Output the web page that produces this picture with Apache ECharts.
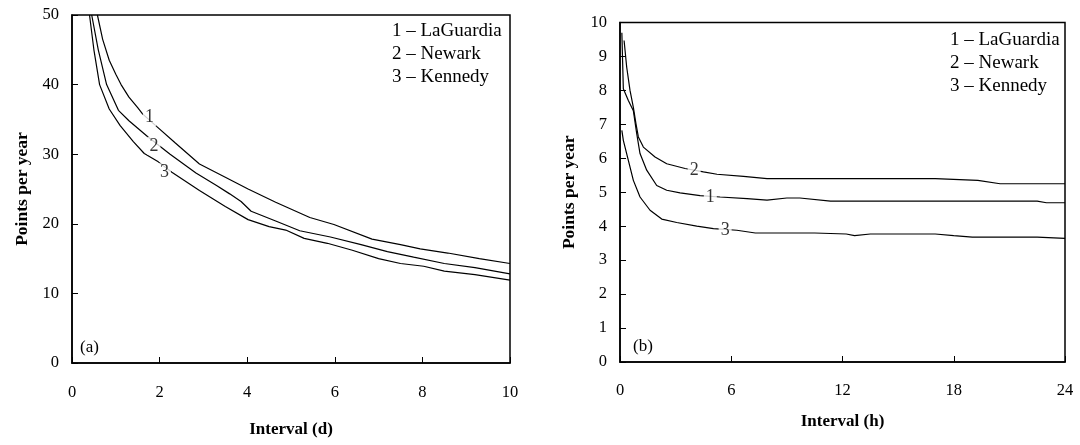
<!DOCTYPE html>
<html>
<head>
<meta charset="utf-8">
<script src="https://cdn.jsdelivr.net/npm/echarts@6/dist/echarts.min.js"></script>
<style>
    html, body { margin: 0; padding: 0; background: #fff; }
    #chart { width: 1080px; height: 445px; }
</style>
</head>
<body>
<div id="chart"></div>
<script>
// panel (a): interval in days
var dayLaGuardiaX = [0.58, 0.7, 0.85, 1.0, 1.12, 1.3, 1.5, 1.61, 1.93, 2.36, 2.91, 3.5, 4.02, 4.65, 5.43, 5.98, 6.85, 7.5, 7.95, 8.58, 9.3, 10];
var dayLaGuardiaY = [50, 46.5, 43.5, 41.5, 40, 38.2, 36.7, 35.8, 34.0, 31.6, 28.6, 26.7, 25.0, 23.1, 20.9, 19.9, 17.8, 17.0, 16.4, 15.8, 15.0, 14.3];
var dayNewarkX = [0.45, 0.6, 0.79, 1.06, 1.3, 1.73, 2.24, 2.83, 3.3, 3.6, 3.86, 4.09, 4.65, 5.2, 5.9, 6.6, 7.2, 7.8, 8.5, 9.2, 10];
var dayNewarkY = [50, 45, 40, 36.3, 34.8, 32.5, 30.0, 27.3, 25.5, 24.3, 23.2, 21.8, 20.4, 19.0, 18.1, 17.0, 16.0, 15.2, 14.3, 13.7, 12.8];
var dayKennedyX = [0.4, 0.5, 0.63, 0.85, 1.1, 1.4, 1.65, 1.97, 2.28, 2.91, 3.5, 4.02, 4.5, 4.88, 5.3, 5.83, 6.4, 7.0, 7.5, 8.03, 8.5, 9.2, 10];
var dayKennedyY = [50, 45, 40, 36.5, 34.1, 31.8, 30.1, 28.9, 27.4, 24.8, 22.5, 20.6, 19.6, 19.1, 17.9, 17.2, 16.2, 15.0, 14.3, 13.9, 13.2, 12.7, 11.9];

// panel (b): interval in hours
var hourLaGuardiaX = [0.1, 0.18, 0.45, 0.72, 0.9, 1.08, 1.44, 1.98, 2.52, 3.24, 4.32, 5.4, 6.85, 7.93, 9.0, 9.7, 11.35, 17, 22.5, 23, 24];
var hourLaGuardiaY = [9.7, 8.05, 7.7, 7.4, 6.73, 6.14, 5.65, 5.2, 5.06, 4.98, 4.9, 4.86, 4.81, 4.77, 4.83, 4.83, 4.74, 4.74, 4.74, 4.69, 4.69];
var hourNewarkX = [0.22, 0.36, 0.54, 0.72, 0.86, 0.99, 1.26, 1.89, 2.52, 3.51, 4.5, 5.23, 6.66, 7.93, 17, 19.3, 20.5, 24];
var hourNewarkY = [9.47, 8.69, 8.0, 7.5, 7.02, 6.63, 6.33, 6.04, 5.84, 5.7, 5.6, 5.53, 5.47, 5.4, 5.4, 5.35, 5.25, 5.25];
var hourKennedyX = [0.1, 0.18, 0.45, 0.72, 1.08, 1.62, 2.25, 3.06, 4.14, 5.04, 6.3, 7.3, 10.5, 12.2, 12.65, 13.5, 17, 18, 19, 22.5, 24];
var hourKennedyY = [6.82, 6.53, 5.94, 5.35, 4.86, 4.47, 4.21, 4.11, 4.0, 3.93, 3.88, 3.8, 3.8, 3.77, 3.72, 3.77, 3.77, 3.72, 3.68, 3.68, 3.64];

// curve number labels sit on the curves
var dayLabels = [[1.77, 35.3, '1'], [1.87, 31.2, '2'], [2.11, 27.4, '3']];
var hourLabels = [[4.87, 4.85, '1'], [4.0, 5.65, '2'], [5.67, 3.88, '3']];

var legendLines = ['1 \u2013 LaGuardia', '2 \u2013 Newark', '3 \u2013 Kennedy'];

var FONT = '"Liberation Serif", "Times New Roman", serif';

function zip(xs, ys) {
    var out = [];
    for (var i = 0; i < xs.length; i++) {
        out.push([xs[i], ys[i]]);
    }
    return out;
}

function curve(xs, ys, idx) {
    return {
        type: 'line',
        xAxisIndex: idx,
        yAxisIndex: idx,
        showSymbol: false,
        symbol: 'none',
        lineStyle: { color: '#000', width: 1.2 },
        data: zip(xs, ys),
        z: 2
    };
}

function numLabels(list, idx) {
    return {
        type: 'scatter',
        xAxisIndex: idx,
        yAxisIndex: idx,
        symbolSize: 0,
        z: 10,
        data: list,
        label: {
            show: true,
            position: 'inside',
            formatter: function (p) { return p.value[2]; },
            color: '#000',
            fontFamily: FONT,
            fontSize: 18,
            backgroundColor: '#fff',
            padding: [0, 2]
        }
    };
}

function xAxisOf(idx, max, step, name, gap, margin) {
    return {
        type: 'value',
        gridIndex: idx,
        min: 0,
        max: max,
        interval: step,
        name: name,
        nameLocation: 'middle',
        nameGap: gap,
        nameTextStyle: { fontFamily: FONT, fontSize: 17, fontWeight: 'bold', color: '#000' },
        axisLine: { lineStyle: { color: '#000', width: 1.5 } },
        axisTick: { inside: true, length: 6, lineStyle: { color: '#000' } },
        axisLabel: { fontFamily: FONT, fontSize: 16.5, color: '#000', margin: margin },
        splitLine: { show: false }
    };
}

function yAxisOf(idx, max, step, gap, margin) {
    return {
        type: 'value',
        gridIndex: idx,
        min: 0,
        max: max,
        interval: step,
        name: 'Points per year',
        nameLocation: 'middle',
        nameGap: gap,
        nameTextStyle: { fontFamily: FONT, fontSize: 17.5, fontWeight: 'bold', color: '#000' },
        axisLine: { lineStyle: { color: '#000', width: 1.5 } },
        axisTick: { inside: true, length: 6, lineStyle: { color: '#000' } },
        axisLabel: { fontFamily: FONT, fontSize: 16.5, color: '#000', margin: margin },
        splitLine: { show: false }
    };
}

var legendStyle = { fontFamily: FONT, fontSize: 19, fontWeight: 'normal', color: '#000', lineHeight: 22.8 };
var tagStyle = { fontFamily: FONT, fontSize: 17, fontWeight: 'normal', color: '#000' };

var chart = echarts.init(document.getElementById('chart'));
chart.setOption({
    animation: false,
    backgroundColor: '#fff',
    title: [
        { text: legendLines.join('\n'), left: 392, top: 20, padding: 0, textStyle: legendStyle },
        { text: legendLines.join('\n'), left: 950, top: 29, padding: 0, textStyle: legendStyle },
        { text: '(a)', left: 80, top: 339, padding: 0, textStyle: tagStyle },
        { text: '(b)', left: 633, top: 338, padding: 0, textStyle: tagStyle }
    ],
    grid: [
        { left: 72, top: 15, width: 438, height: 348, show: true, borderColor: '#000', borderWidth: 1.5 },
        { left: 620, top: 22.5, width: 445, height: 339.5, show: true, borderColor: '#000', borderWidth: 1.5 }
    ],
    xAxis: [
        xAxisOf(0, 10, 2, 'Interval (d)', 58, 21),
        xAxisOf(1, 24, 6, 'Interval (h)', 51, 20)
    ],
    yAxis: [
        yAxisOf(0, 50, 10, 41, 13),
        yAxisOf(1, 10, 1, 42, 13)
    ],
    series: [
        curve(dayLaGuardiaX, dayLaGuardiaY, 0),
        curve(dayNewarkX, dayNewarkY, 0),
        curve(dayKennedyX, dayKennedyY, 0),
        numLabels(dayLabels, 0),
        curve(hourLaGuardiaX, hourLaGuardiaY, 1),
        curve(hourNewarkX, hourNewarkY, 1),
        curve(hourKennedyX, hourKennedyY, 1),
        numLabels(hourLabels, 1)
    ]
});
</script>
</body>
</html>
